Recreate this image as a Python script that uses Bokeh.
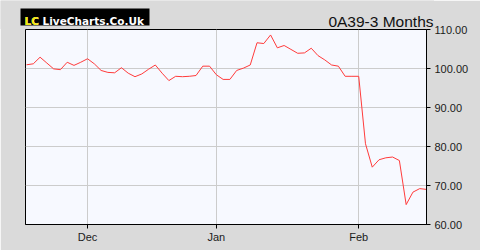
from bokeh.plotting import figure
from bokeh.models import Label, FixedTicker, Range1d, BoxAnnotation
from bokeh.embed import file_html
from bokeh.resources import INLINE

# Close prices (trading-day index)
prices = [100.95, 101.2, 102.9, 101.4, 99.9, 99.7, 101.6, 100.8, 101.6, 102.5,
          101.2, 99.5, 99.0, 98.9, 100.2, 98.8, 97.9, 98.6, 99.8, 100.9,
          98.8, 96.9, 98.0, 97.9, 98.0, 98.2, 100.6, 100.6, 98.4, 97.2,
          97.2, 99.5, 100.1, 100.9, 106.6, 106.4, 108.6, 105.3, 105.9, 104.9,
          103.9, 104.0, 105.2, 103.3, 102.2, 100.9, 100.6, 98.0, 98.0, 98.0,
          80.7, 74.7, 76.6, 77.1, 77.3, 76.4, 65.1, 68.3, 69.2, 69.0]
month_labels = ["Dec", "Jan", "Feb"]
month_index = [9, 28, 49]
y_ticks = [60, 70, 80, 90, 100, 110]
title_text = "0A39-3 Months"
logo_mark = "LC"
logo_name = "LiveCharts.Co.Uk"

BG = "#dadada"
W, H, H_TOP, W_TOP = 480, 250, 29, 434

# ---- main chart (full page) ----
x = list(range(len(prices)))
p = figure(width=W, height=H, output_backend="svg", toolbar_location=None,
           y_axis_location="right", x_range=Range1d(-0.15, len(prices) - 1),
           y_range=Range1d(60, 110),
           min_border_left=25, min_border_right=54, min_border_top=H_TOP, min_border_bottom=26)
p.background_fill_color = "#f7f9ff"
p.border_fill_color = BG
p.outline_line_color = "black"
p.outline_line_width = 1

p.line(x, prices, line_color="#ff3b3b", line_width=1)

p.xaxis.ticker = FixedTicker(ticks=month_index)
p.xaxis.major_label_overrides = {i: l for i, l in zip(month_index, month_labels)}
p.yaxis.ticker = FixedTicker(ticks=y_ticks)
p.yaxis.major_label_overrides = {v: f"{v:.2f}" for v in y_ticks}
for ax in (p.xaxis, p.yaxis):
    ax.axis_line_color = "black"
    ax.major_tick_line_color = "black"
    ax.major_tick_out = 4
    ax.major_tick_in = 0
    ax.minor_tick_line_color = None
    ax.major_label_text_font = "Liberation Sans"
    ax.major_label_text_font_size = "11px"
    ax.major_label_text_color = "#1a1a1a"
p.xaxis.major_label_standoff = 2
p.yaxis.major_label_standoff = 4
p.grid.grid_line_color = "#cccccc"

# ---- header strip (logo + title), laid over the top border of the chart ----
top = figure(width=W_TOP, height=H_TOP, output_backend="svg", toolbar_location=None,
             x_axis_location=None, y_axis_location=None,
             x_range=Range1d(0, W_TOP), y_range=Range1d(0, H_TOP),
             min_border=0, min_border_left=0, min_border_right=0,
             min_border_top=0, min_border_bottom=0)
top.background_fill_color = BG
top.border_fill_color = BG
top.outline_line_color = None
top.grid.visible = False
top.styles = {"position": "absolute", "top": "0px", "left": "0px", "z-index": "10"}
top.add_layout(BoxAnnotation(left=20, right=149, bottom=4, top=21,
                             fill_color="black", fill_alpha=1, line_color=None))
top.add_layout(Label(x=24, y=8.5, text=logo_mark + " " + logo_name, text_color="white",
                     text_font="DejaVu Sans", text_font_size="10.5px",
                     text_font_style="bold", text_baseline="alphabetic"))
top.add_layout(Label(x=24, y=8.5, text=logo_mark, text_color="#f2e600",
                     text_font="DejaVu Sans", text_font_size="10.5px",
                     text_font_style="bold", text_baseline="alphabetic"))
top.add_layout(Label(x=433, y=8, text=title_text, text_color="#111111",
                     text_font="Liberation Sans", text_font_size="15.5px",
                     text_align="right", text_baseline="alphabetic"))

open("out.html", "w").write(file_html([p, top], INLINE))
